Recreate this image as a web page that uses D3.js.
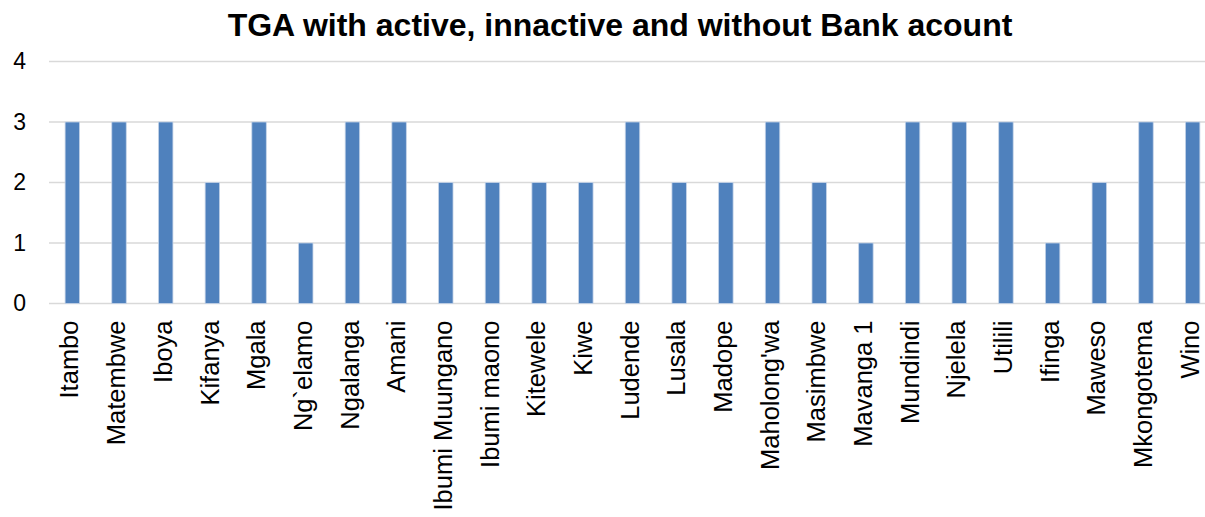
<!DOCTYPE html>
<html>
<head>
<meta charset="utf-8">
<script src="https://cdn.jsdelivr.net/npm/d3@7"></script>
<style>
  html, body { margin: 0; padding: 0; background: #fff; overflow: hidden; }
  svg { display: block; font-family: "Liberation Sans", Arial, sans-serif; }
</style>
</head>
<body>
<svg id="chart" width="1205" height="517"></svg>
<script>
const categories = ["Itambo", "Matembwe", "Iboya", "Kifanya", "Mgala", "Ng`elamo", "Ngalanga", "Amani",
  "Ibumi Muungano", "Ibumi maono", "Kitewele", "Kiwe", "Ludende", "Lusala", "Madope", "Maholong'wa",
  "Masimbwe", "Mavanga 1", "Mundindi", "Njelela", "Utilili", "Ifinga", "Maweso", "Mkongotema", "Wino"];
const values = [3, 3, 3, 2, 3, 1, 3, 3, 2, 2, 2, 2, 3, 2, 2, 3, 2, 1, 3, 3, 3, 1, 2, 3, 3];
const yTicks = [0, 1, 2, 3, 4];
const title = "TGA with active, innactive and without Bank acount";

const svg = d3.select("#chart");
const plot = { left: 49, right: 1216, top: 61.5, bottom: 303.5 };

const x = d3.scaleBand().domain(categories).range([plot.left, plot.right]).paddingInner(0.69).paddingOuter(0.345);
const y = d3.scaleLinear().domain([0, 4]).range([plot.bottom, plot.top]);

// horizontal gridlines
svg.append("g").selectAll("line").data(yTicks).join("line")
  .attr("x1", plot.left).attr("x2", 1205)
  .attr("y1", d => y(d)).attr("y2", d => y(d))
  .attr("stroke", "#d9d9d9").attr("stroke-width", 1.5);

// bars
svg.append("g").selectAll("rect").data(values).join("rect")
  .attr("x", (d, i) => x(categories[i]))
  .attr("width", x.bandwidth())
  .attr("y", d => y(d))
  .attr("height", d => y(0) - y(d))
  .attr("fill", "#4f81bd")
  .attr("stroke", "#c6d4e8").attr("stroke-width", 0.8);

// y axis labels
const yAxis = d3.axisLeft(y).tickValues(yTicks).tickSize(0).tickPadding(0).tickFormat(d3.format("d"));
const gy = svg.append("g").attr("transform", "translate(26,0)").call(yAxis);
gy.select(".domain").remove();
gy.selectAll("text").attr("font-size", 23).attr("fill", "#000").attr("font-family", "Liberation Sans, Arial, sans-serif");

// x axis labels, rotated
const xAxis = d3.axisBottom(x).tickSize(0).tickPadding(0);
const gx = svg.append("g").attr("transform", `translate(0,${plot.bottom})`).call(xAxis);
gx.select(".domain").remove();
gx.selectAll("text")
  .attr("font-size", 25.5).attr("fill", "#000").attr("font-family", "Liberation Sans, Arial, sans-serif")
  .attr("transform", "rotate(-90)")
  .attr("text-anchor", "end")
  .attr("x", -17).attr("y", 0).attr("dy", "0.24em");

// title
svg.append("text")
  .attr("x", 620).attr("y", 36)
  .attr("text-anchor", "middle")
  .attr("font-size", 32).attr("font-weight", "bold")
  .text(title);
</script>
</body>
</html>
